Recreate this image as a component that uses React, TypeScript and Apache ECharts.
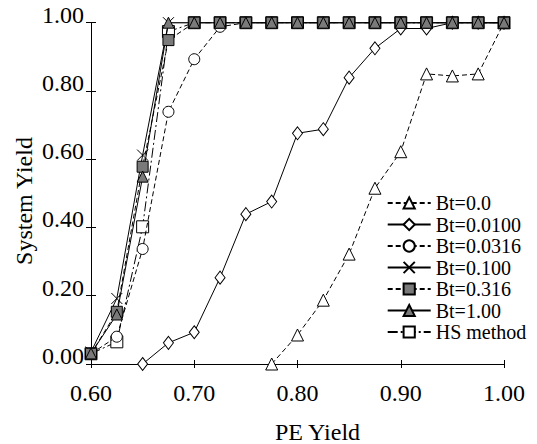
import React, { useEffect, useRef } from "react";
import * as echarts from "echarts";

const xs = [0.6, 0.625, 0.65, 0.675, 0.7, 0.725, 0.75, 0.775, 0.8, 0.825, 0.85, 0.875, 0.9, 0.925, 0.95, 0.975, 1.0];

const bt0 = [null, null, null, null, null, null, null, 0.0, 0.085, 0.187, 0.322, 0.515, 0.622, 0.85, 0.844, 0.85, 1.0];
const bt0100 = [null, null, 0.0, 0.062, 0.093, 0.253, 0.439, 0.476, 0.676, 0.688, 0.839, 0.925, 0.983, 0.983, 1.0, 1.0, 1.0];
const bt0316 = [0.03, 0.08, 0.337, 0.739, 0.893, 0.988, 1, 1, 1, 1, 1, 1, 1, 1, 1, 1, 1];
const bt100 = [0.035, 0.192, 0.612, 1.0, 1, 1, 1, 1, 1, 1, 1, 1, 1, 1, 1, 1, 1];
const bt316 = [0.03, 0.153, 0.578, 0.949, 1, 1, 1, 1, 1, 1, 1, 1, 1, 1, 1, 1, 1];
const bt1 = [0.031, 0.145, 0.549, 1.0, 1, 1, 1, 1, 1, 1, 1, 1, 1, 1, 1, 1, 1];
const hs = [0.03, 0.065, 0.402, 0.974, 1, 1, 1, 1, 1, 1, 1, 1, 1, 1, 1, 1, 1];

const seriesNames = ["Bt=0.0", "Bt=0.0100", "Bt=0.0316", "Bt=0.100", "Bt=0.316", "Bt=1.00", "HS method"];

const FONT = "Liberation Serif";
const GREY = "#7a7a7a";

function pairs(vals: (number | null)[]) {
  return xs.map((x, i) => [x, vals[i]]);
}

export default function App() {
  const ref = useRef<HTMLDivElement>(null);
  useEffect(() => {
    if (!ref.current) return;
    const chart = echarts.init(ref.current, undefined, { renderer: "svg" });
    const mk = (
      name: string,
      vals: (number | null)[],
      symbol: string,
      symbolSize: any,
      fill: string,
      lineType: any,
      z: number
    ) => ({
      name,
      type: "line",
      data: pairs(vals),
      symbol,
      symbolSize,
      showSymbol: true,
      z,
      lineStyle: { color: "#000", width: 1, type: lineType },
      itemStyle: { color: fill, borderColor: "#000", borderWidth: 1 },
      emphasis: { disabled: true },
    });
    const option: any = {
      animation: false,
      grid: { left: 91, right: 33, top: 22.7, bottom: 80 },
      xAxis: [
        {
          type: "value",
          min: 0.6,
          max: 1.0,
          interval: 0.1,
          position: "bottom",
          axisLine: { show: true, lineStyle: { color: "#000", width: 1 } },
          axisTick: { show: true, inside: false, length: 4, lineStyle: { color: "#000" } },
          axisLabel: {
            show: true,
            margin: 17,
            color: "#000",
            fontFamily: FONT,
            fontSize: 24,
            formatter: (v: number) => v.toFixed(2),
          },
          splitLine: { show: false },
        },
        {
          type: "value",
          min: 0.6,
          max: 1.0,
          interval: 0.1,
          position: "bottom",
          axisLine: { show: false },
          axisTick: { show: true, inside: true, length: 4, lineStyle: { color: "#000" } },
          axisLabel: { show: false },
          splitLine: { show: false },
        },
      ],
      yAxis: [
        {
          type: "value",
          min: 0,
          max: 1,
          interval: 0.2,
          position: "left",
          axisLine: { show: true, lineStyle: { color: "#000", width: 1 } },
          axisTick: { show: true, inside: false, length: 5, lineStyle: { color: "#000" } },
          axisLabel: {
            show: true,
            margin: 7,
            color: "#000",
            fontFamily: FONT,
            fontSize: 24,
            verticalAlign: "bottom",
            lineHeight: 16,
            formatter: (v: number) => v.toFixed(2),
          },
          splitLine: { show: false },
        },
        {
          type: "value",
          min: 0,
          max: 1,
          interval: 0.2,
          position: "left",
          axisLine: { show: false },
          axisTick: { show: true, inside: true, length: 5, lineStyle: { color: "#000" } },
          axisLabel: { show: false },
          splitLine: { show: false },
        },
      ],
      legend: {
        data: seriesNames,
        orient: "vertical",
        left: 381.7,
        top: 188,
        itemWidth: 43,
        itemHeight: 14,
        itemGap: 1.5,
        textStyle: { color: "#000", fontFamily: FONT, fontSize: 20 },
        selectedMode: false,
      },
      graphic: [
        {
          type: "text",
          x: 317.5,
          y: 432,
          style: {
            text: "PE Yield",
            fontFamily: FONT,
            fontSize: 24,
            fill: "#000",
            textAlign: "center",
            textVerticalAlign: "middle",
          },
        },
        {
          type: "text",
          x: 24,
          y: 201,
          rotation: Math.PI / 2,
          style: {
            text: "System Yield",
            fontFamily: FONT,
            fontSize: 24,
            fill: "#000",
            textAlign: "center",
            textVerticalAlign: "middle",
          },
        },
      ],
      series: [
        mk("HS method", hs, "rect", 12, "#fff", [10, 3, 2, 3], 1),
        mk("Bt=0.0", bt0, "triangle", 12, "#fff", [5, 3], 2),
        mk("Bt=0.0100", bt0100, "diamond", [10, 13], "#fff", "solid", 2),
        mk("Bt=0.0316", bt0316, "circle", 11, "#fff", [5, 3], 2),
        mk("Bt=0.100", bt100, "path://M0,0L10,10M10,0L0,10", 11, "#000", "solid", 2),
        mk("Bt=0.316", bt316, "rect", 11, GREY, [5, 3], 2),
        mk("Bt=1.00", bt1, "triangle", 11, GREY, "solid", 2),
      ],
    };
    chart.setOption(option);
    return () => chart.dispose();
  }, []);
  return (
    <div
      ref={ref}
      style={{ position: "fixed", left: 0, top: 0, width: 537, height: 444, background: "#fff" }}
    />
  );
}
